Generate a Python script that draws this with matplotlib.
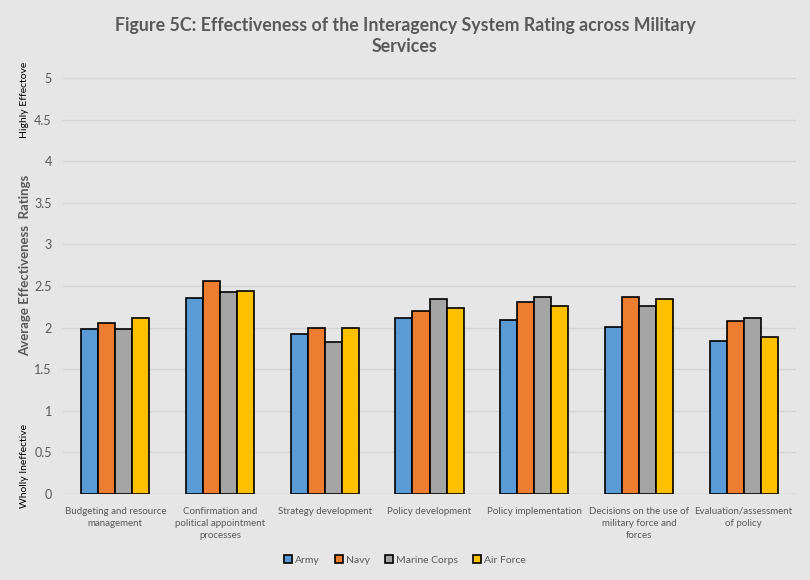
import numpy as np
import matplotlib.pyplot as plt

categories = ['Budgeting and resource\nmanagement',
              'Confirmation and\npolitical appointment\nprocesses',
              'Strategy development',
              'Policy development',
              'Policy implementation',
              'Decisions on the use of\nmilitary force and\nforces',
              'Evaluation/assessment\nof policy']
army = [1.98, 2.36, 1.92, 2.11, 2.09, 2.01, 1.84]
navy = [2.06, 2.56, 1.99, 2.20, 2.31, 2.37, 2.08]
marine = [1.98, 2.43, 1.83, 2.34, 2.37, 2.26, 2.11]
air_force = [2.12, 2.44, 2.00, 2.23, 2.26, 2.34, 1.89]
series_names = ['Army', 'Navy', 'Marine Corps', 'Air Force']
colors = ['#5B9BD5', '#ED7D31', '#A5A5A5', '#FFC000']

bg = '#E7E6E6'
txt = '#595959'
plt.rcParams['font.family'] = ['Lato', 'DejaVu Sans']

fig = plt.figure(figsize=(8.1, 5.8), dpi=100, facecolor=bg)
ax = fig.add_axes([63/810, 1-494/580, (796-63)/810, (494-78)/580])
ax.set_facecolor(bg)

x = np.arange(len(categories))
w = 0.1625
for i, (vals, name, c) in enumerate(zip([army, navy, marine, air_force], series_names, colors)):
    ax.bar(x + (i - 1.5) * w, vals, w, color=c, edgecolor='black', linewidth=1.2, label=name, zorder=3)

ax.set_ylim(0, 5)
ax.set_xlim(-0.5, len(categories) - 0.5)
ax.set_yticks(np.arange(0, 5.01, 0.5))
ax.set_yticklabels(['0', '0.5', '1', '1.5', '2', '2.5', '3', '3.5', '4', '4.5', '5'])
ax.set_xticks(x)
ax.set_xticklabels(categories, fontsize=7, color=txt, linespacing=1.45)
ax.tick_params(axis='y', colors=txt, labelsize=9, length=0, pad=8)
ax.tick_params(axis='x', length=0, pad=9)
ax.grid(axis='y', color='#D4D4D4', linewidth=1, zorder=0)
for s in ax.spines.values():
    s.set_visible(False)
ax.axhline(0, color='#D0D0D0', linewidth=1, zorder=1)

fig.text(0.5, 1-36/580, 'Figure 5C: Effectiveness of the Interagency System Rating across Military\nServices',
         ha='center', va='center', fontsize=12.8, fontweight='bold', color=txt, linespacing=1.35)

fig.text(25/810, 1-100/580, 'Highly Effectove', rotation=90, ha='center', va='center', fontsize=7.5, color='black')
fig.text(25/810, 1-265/580, 'Average Effectiveness  Ratings', rotation=90, ha='center', va='center',
         fontsize=9.5, fontweight='bold', color=txt)
fig.text(25/810, 1-466/580, 'Wholly Ineffective', rotation=90, ha='center', va='center', fontsize=7.5, color='black')

leg = fig.legend(loc='center', bbox_to_anchor=(0.5, 1-560/580), ncol=4, frameon=False,
                 fontsize=7.5, handlelength=0.8, handleheight=0.8, handletextpad=0.3, columnspacing=1.4)
for t in leg.get_texts():
    t.set_color(txt)

fig.savefig('out.png', dpi=100, facecolor=bg)
